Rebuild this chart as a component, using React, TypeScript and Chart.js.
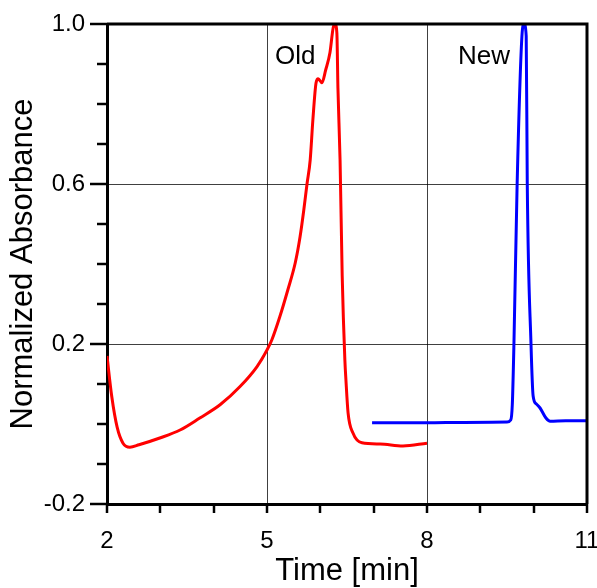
import React, { useEffect, useRef } from "react";
import { Chart, registerables } from "chart.js";

Chart.register(...registerables);

// ---- data ----
const oldTime = [2.0, 2.09, 2.19, 2.3, 2.43, 2.6, 2.99, 3.37, 3.74, 4.12, 4.49, 4.81, 5.0, 5.09, 5.24, 5.39, 5.53, 5.62, 5.69, 5.75, 5.81, 5.86, 5.92, 5.96, 6.03, 6.1, 6.18, 6.24, 6.275, 6.31, 6.33, 6.37, 6.41, 6.46, 6.48, 6.52, 6.61, 6.78, 7.12, 7.55, 8.0];
const oldAbs = [0.17, 0.068, -0.008, -0.048, -0.058, -0.052, -0.035, -0.015, 0.015, 0.048, 0.093, 0.143, 0.185, 0.21, 0.268, 0.335, 0.403, 0.468, 0.535, 0.6, 0.66, 0.76, 0.853, 0.863, 0.853, 0.885, 0.928, 0.99, 1.0, 0.978, 0.84, 0.66, 0.37, 0.16, 0.11, 0.028, -0.022, -0.047, -0.05, -0.055, -0.048];

const newTime = [6.97, 8.0, 8.7, 9.5, 9.57, 9.6, 9.63, 9.69, 9.78, 9.82, 9.86, 9.88, 9.95, 9.99, 10.05, 10.12, 10.23, 10.31, 10.6, 11.0];
const newAbs = [0.003, 0.003, 0.004, 0.005, 0.01, 0.05, 0.2, 0.6, 0.97, 1.0, 0.97, 0.6, 0.2, 0.07, 0.05, 0.04, 0.015, 0.007, 0.008, 0.008];

const seriesNames = ["Old", "New"];
const xTickLabels = [2, 5, 8, 11];
const yTickLabels = [-0.2, 0.2, 0.6, 1.0];
const xRange = [2, 11];
const yRange = [-0.2, 1.0];
const xTitle = "Time [min]";
const yTitle = "Normalized Absorbance";

// where the series names are written (in data units)
const nameAnchors = [
  { t: 5.53, v: 0.918 },
  { t: 9.07, v: 0.918 },
];

const FONT = "'Liberation Sans', Arial, Helvetica, sans-serif";

const near = (a: number, list: number[]) => list.some((b) => Math.abs(a - b) < 1e-6);

const framePlugin = {
  id: "frame",
  afterDraw(chart: any) {
    const { ctx, chartArea, scales } = chart;
    const xs = scales.x;
    const ys = scales.y;
    ctx.save();
    ctx.strokeStyle = "#000";
    ctx.lineCap = "butt";
    ctx.lineWidth = 2.5;
    for (let v = xRange[0]; v <= xRange[1] + 1e-9; v += 1) {
      const px = Math.round(xs.getPixelForValue(v));
      ctx.beginPath();
      ctx.moveTo(px, chartArea.bottom);
      ctx.lineTo(px, chartArea.bottom + 9);
      ctx.stroke();
    }
    for (let i = 0; i <= 12; i++) {
      const v = yRange[0] + i * 0.1;
      const py = Math.round(ys.getPixelForValue(v));
      const len = near(v, yTickLabels) ? 17 : 10;
      ctx.beginPath();
      ctx.moveTo(chartArea.left, py);
      ctx.lineTo(chartArea.left - len, py);
      ctx.stroke();
    }
    ctx.lineWidth = 3;
    ctx.beginPath();
    ctx.moveTo(chartArea.left, chartArea.top);
    ctx.lineTo(chartArea.right, chartArea.top);
    ctx.lineTo(chartArea.right, chartArea.bottom);
    ctx.stroke();
    ctx.fillStyle = "#000";
    ctx.font = `26px ${FONT}`;
    ctx.textAlign = "center";
    ctx.textBaseline = "middle";
    nameAnchors.forEach((a, i) => {
      ctx.fillText(seriesNames[i], xs.getPixelForValue(a.t), ys.getPixelForValue(a.v));
    });
    ctx.restore();
  },
};

export default function App() {
  const ref = useRef<HTMLCanvasElement | null>(null);

  useEffect(() => {
    if (!ref.current) return;
    const chart = new Chart(ref.current, {
      type: "line",
      data: {
        datasets: [
          {
            label: seriesNames[0],
            data: oldTime.map((t, i) => ({ x: t, y: oldAbs[i] })),
            borderColor: "#ff0000",
            borderWidth: 3,
            pointRadius: 0,
            cubicInterpolationMode: "monotone",
            fill: false,
          },
          {
            label: seriesNames[1],
            data: newTime.map((t, i) => ({ x: t, y: newAbs[i] })),
            borderColor: "#0000ff",
            borderWidth: 3,
            pointRadius: 0,
            cubicInterpolationMode: "monotone",
            fill: false,
          },
        ],
      },
      options: {
        responsive: false,
        animation: false,
        layout: { padding: { left: 0, top: 24, right: 10, bottom: 0 } },
        plugins: {
          legend: { display: false },
          tooltip: { enabled: false },
        },
        scales: {
          x: {
            type: "linear",
            min: xRange[0],
            max: xRange[1],
            afterFit: (s: any) => {
              s.height = 84;
              s.paddingLeft = 0;
              s.paddingRight = 0;
            },
            border: { display: true, color: "#000", width: 3 },
            grid: {
              drawTicks: false,
              lineWidth: 1,
              color: (c: any) => (c.tick && near(c.tick.value, xTickLabels) ? "rgba(0,0,0,0.75)" : "rgba(0,0,0,0)"),
            },
            ticks: {
              stepSize: 1,
              autoSkip: false,
              maxRotation: 0,
              padding: 23,
              color: "#000",
              font: { family: FONT, size: 24 },
              callback: (v: any) => (near(Number(v), xTickLabels) ? String(v) : ""),
            },
            title: {
              display: true,
              text: xTitle,
              color: "#000",
              font: { family: FONT, size: 31, lineHeight: 1 },
              padding: { top: 0, bottom: 1 },
            },
          },
          y: {
            type: "linear",
            min: yRange[0],
            max: yRange[1],
            afterFit: (s: any) => {
              s.width = 107;
              s.paddingTop = 0;
              s.paddingBottom = 0;
            },
            border: { display: true, color: "#000", width: 3 },
            grid: {
              drawTicks: false,
              lineWidth: 1,
              color: (c: any) => (c.tick && near(c.tick.value, yTickLabels) ? "rgba(0,0,0,0.75)" : "rgba(0,0,0,0)"),
            },
            ticks: {
              stepSize: 0.1,
              autoSkip: false,
              padding: 22,
              color: "#000",
              font: { family: FONT, size: 24 },
              callback: (v: any) => (near(Number(v), yTickLabels) ? Number(v).toFixed(1) : ""),
            },
            title: {
              display: true,
              text: yTitle,
              color: "#000",
              font: { family: FONT, size: 31, lineHeight: 1 },
              padding: { top: 8, bottom: 0 },
            },
          },
        },
      },
      plugins: [framePlugin],
    } as any);
    return () => chart.destroy();
  }, []);

  return (
    <div style={{ position: "absolute", left: 0, top: 0, width: 597, height: 588, background: "#fff" }}>
      <canvas ref={ref} width={597} height={588} style={{ display: "block" }} />
    </div>
  );
}
